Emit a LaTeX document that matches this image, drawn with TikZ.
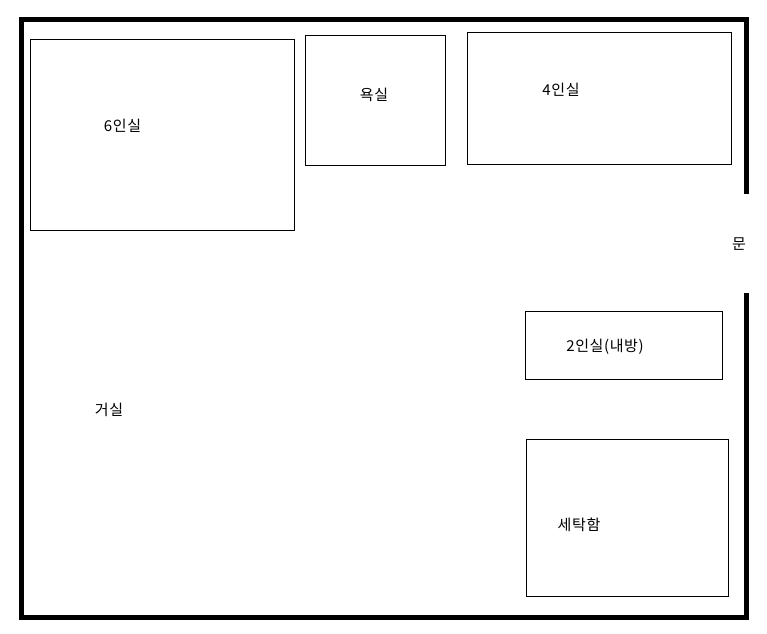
\documentclass[tikz,border=0pt]{standalone}
\usepackage{fontspec}
\newfontfamily\korfont[LetterSpace=4]{Noto Sans CJK KR}
\usepackage{tikz}
\tikzset{
  wall/.style={line width=5pt, line join=miter},
  roombox/.style={line width=1pt},
  roomlabel/.style={font=\korfont\fontsize{15}{17}\selectfont, inner sep=0pt}
}

\begin{document}
\begin{tikzpicture}[x=1pt, y=-1pt]
  \useasboundingbox (0,0) rectangle (767,633);
  % outer wall, open at the door
  \draw[wall] (746.5,194) -- (746.5,19.5) -- (21.5,19.5) -- (21.5,617.5) -- (746.5,617.5) -- (746.5,293);

  % rooms
  \draw[roombox] (30.5,39.5) rectangle (294.5,230);
  \draw[roombox] (305.5,35.5) rectangle (445.5,165);
  \draw[roombox] (467.5,32.5) rectangle (731.5,164);
  \draw[roombox] (525.5,311.5) rectangle (722,379);
  \draw[roombox] (526.5,439.5) rectangle (728.5,596);

  % labels
  \node[roomlabel] (six)    at (122.5,125.5) {6인실};
  \node[roomlabel] (bath)   at (374,95)      {욕실};
  \node[roomlabel] (four)   at (561,89.5)    {4인실};
  \node[roomlabel] (door)   at (739,244)     {문};
  \node[roomlabel] (two)    at (605,346.5)   {2인실(내방)};
  \node[roomlabel] (living) at (109,410)     {거실};
  \node[roomlabel] (laundry) at (579,525)    {세탁함};
\end{tikzpicture}
\end{document}
